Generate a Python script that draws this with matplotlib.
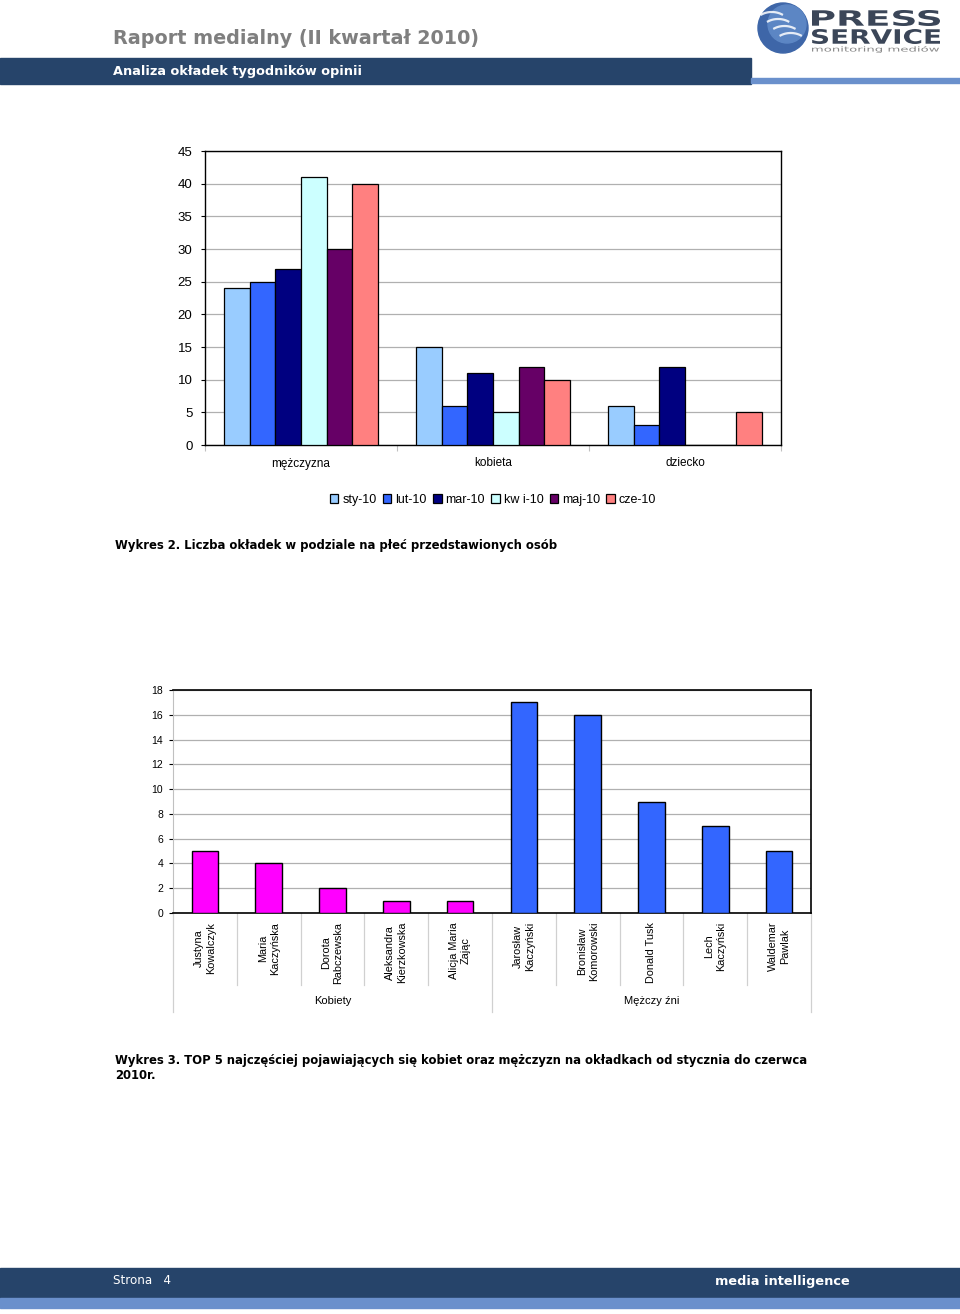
import numpy as np
import matplotlib
matplotlib.use("Agg")
import matplotlib.pyplot as plt
import matplotlib.transforms as mtransforms
from matplotlib.patches import Rectangle, Circle, PathPatch
from matplotlib.textpath import TextPath
from matplotlib.font_manager import FontProperties

W, H = 960, 1314

# chart 1 data
categories1 = ["mężczyzna", "kobieta", "dziecko"]
months = ["sty-10", "lut-10", "mar-10", "kwi-10", "maj-10", "cze-10"]
month_labels = ["sty-10", "lut-10", "mar-10", "kw i-10", "maj-10", "cze-10"]
counts = {
    "sty-10": [24, 15, 6],
    "lut-10": [25, 6, 3],
    "mar-10": [27, 11, 12],
    "kwi-10": [41, 5, 0],
    "maj-10": [30, 12, 0],
    "cze-10": [40, 10, 5],
}
month_colors = ["#99CCFF", "#3366FF", "#000080", "#CCFFFF", "#660066", "#FF8080"]

# chart 2 data
people = ["Justyna\nKowalczyk", "Maria\nKaczyńska", "Dorota\nRabczewska",
          "Aleksandra\nKierzkowska", "Alicja Maria\nZając",
          "Jarosław\nKaczyński", "Bronisław\nKomorowski", "Donald Tusk",
          "Lech\nKaczyński", "Waldemar\nPawlak"]
people_counts = [5, 4, 2, 1, 1, 17, 16, 9, 7, 5]
groups = ["Kobiety", "Mężczy źni"]
group_sizes = [5, 5]
group_colors = ["#FF00FF", "#3366FF"]

DARK = "#26446A"
LIGHT = "#6A90CC"
plt.rcParams["font.family"] = ["Liberation Sans", "DejaVu Sans"]


def box(x0, y0, x1, y1):
    return [x0 / W, 1 - y1 / H, (x1 - x0) / W, (y1 - y0) / H]


def ftext(x, y, s, **kw):
    return fig.text(x / W, 1 - y / H, s, **kw)


fig = plt.figure(figsize=(W / 100, H / 100), dpi=100)

# ---- header / footer ----
fig.patches.append(Rectangle((0, 1 - 84 / H), 751 / W, 26 / H, transform=fig.transFigure,
                             color=DARK, zorder=0))
fig.patches.append(Rectangle((751 / W, 1 - 83 / H), 209 / W, 5 / H, transform=fig.transFigure,
                             color=LIGHT, zorder=0))
fig.patches.append(Rectangle((0, 1 - 1298 / H), 1, 30 / H, transform=fig.transFigure,
                             color=DARK, zorder=0))
fig.patches.append(Rectangle((0, 1 - 1308 / H), 1, 10 / H, transform=fig.transFigure,
                             color=LIGHT, zorder=0))

ftext(113, 38, "Raport medialny (II kwartał 2010)", family="DejaVu Sans", weight="bold",
      fontsize=13.8, color="#7F7F7F", va="center")
ftext(113, 71, "Analiza okładek tygodników opinii", family="DejaVu Sans", weight="bold",
      fontsize=9.3, color="white", va="center")
ftext(113, 1281, "Strona   4", family="DejaVu Sans", fontsize=8.6, color="white", va="center")
ftext(715, 1282, "media intelligence", family="DejaVu Sans", weight="bold", fontsize=9.3,
      color="white", va="center")

ftext(115, 545, "Wykres 2. Liczba okładek w podziale na płeć przedstawionych osób",
      family="DejaVu Sans", weight="bold", fontsize=8.35, va="center")
ftext(115, 1068, "Wykres 3. TOP 5 najczęściej pojawiających się kobiet oraz mężczyzn na okładkach od stycznia do czerwca\n2010r.",
      family="DejaVu Sans", weight="bold", fontsize=8.35, va="center", linespacing=1.2)

# ---- logo ----
lg = fig.add_axes(box(740, 0, 960, 60))
lg.set_xlim(740, 960)
lg.set_ylim(60, 0)
lg.axis("off")
lg.add_patch(Circle((783, 28), 25, color="#3E66A8", zorder=1))
lg.add_patch(Circle((787, 24), 19, color="#5C86C4", zorder=1))
for off in [-8, -1, 6, 13]:
    t = np.linspace(-0.6, 0.6, 30)
    xs = 783 + off * 0.9 + 18 * np.sin(t) - 4
    ys = 28 + off - 14 * np.cos(t) + 6
    lg.plot(xs, ys, color="white", lw=1.6, alpha=0.85, zorder=2)


def fit_text(ax, s, x0, y0, x1, y1, color, weight="bold"):
    tp = TextPath((0, 0), s, size=1, prop=FontProperties(family="DejaVu Sans", weight=weight))
    ext = tp.get_extents()
    sx = (x1 - x0) / ext.width
    sy = (y1 - y0) / ext.height
    tr = mtransforms.Affine2D().translate(-ext.x0, -ext.y0).scale(sx, -sy).translate(x0, y1)
    ax.add_patch(PathPatch(tr.transform_path(tp), color=color, lw=0, zorder=3))


fit_text(lg, "PRESS", 812, 10, 940, 26, "#3B4658")
fit_text(lg, "SERVICE", 812, 29, 940, 44, "#3B4658")
fit_text(lg, "monitoring mediów", 812, 46, 939, 53, "#8A8A8A", weight="normal")

# ---- chart 1 ----
ax1 = fig.add_axes(box(205, 151, 781, 445))
x = np.arange(len(categories1))
bw = 1 / 7.5
for i, m in enumerate(months):
    ax1.bar(x + (i - 2.5) * bw, counts[m], width=bw, color=month_colors[i],
            edgecolor="black", linewidth=0.9, label=month_labels[i], zorder=3)
ax1.set_xlim(-0.5, 2.5)
ax1.set_ylim(0, 45)
ax1.set_yticks(np.arange(0, 46, 5))
ax1.yaxis.grid(True, color="#B0B0B0", lw=0.9, zorder=0)
ax1.set_xticks([-0.5, 0.5, 1.5, 2.5])
ax1.set_xticklabels([])
ax1.tick_params(axis="x", which="major", length=4, color="#C0C0C0", width=0.8)
ax1.set_xticks(x, minor=True)
ax1.set_xticklabels(categories1, minor=True, fontsize=8.5)
ax1.tick_params(axis="x", which="minor", length=0, pad=9)
ax1.tick_params(axis="y", labelsize=9.5, length=3, pad=6)
for sp in ax1.spines.values():
    sp.set_linewidth(1.0)
h, l = ax1.get_legend_handles_labels()
fig.legend(h, l, loc="center", bbox_to_anchor=(493 / W, 1 - 500 / H), ncol=6, frameon=False,
           fontsize=9, handlelength=0.7, handleheight=0.7, handletextpad=0.3,
           columnspacing=0.5)

# ---- chart 2 ----
ax2 = fig.add_axes(box(173, 690, 811, 913))
x2 = np.arange(len(people))
colors2 = [c for c, n in zip(group_colors, group_sizes) for _ in range(n)]
ax2.bar(x2, people_counts, width=0.42, color=colors2, edgecolor="black", linewidth=1.0, zorder=3)
ax2.set_xlim(-0.5, len(people) - 0.5)
ax2.set_ylim(0, 18)
ax2.set_yticks(np.arange(0, 19, 2))
ax2.yaxis.grid(True, color="#B0B0B0", lw=0.9, zorder=0)
ax2.tick_params(axis="y", labelsize=7.5, length=3, pad=4)
ax2.set_xticks([])
for sp in ax2.spines.values():
    sp.set_linewidth(1.2)
ax2.spines["left"].set_linewidth(0.8)
ax2.spines["left"].set_color("#C0C0C0")

trans = mtransforms.blended_transform_factory(ax2.transData, ax2.transAxes)
for i, name in enumerate(people):
    ax2.text(i, -0.04, name, rotation=90, ha="center", va="top", fontsize=7.8,
             transform=trans, linespacing=1.25)
bounds = np.arange(-0.5, len(people), 1)
ends = np.cumsum([0] + group_sizes) - 0.5
for b in bounds:
    low = -0.445 if b in ends else -0.325
    ax2.plot([b, b], [0, low], transform=trans, color="#D0D0D0", lw=0.9, clip_on=False)
for gi, g in enumerate(groups):
    mid = (ends[gi] + ends[gi + 1]) / 2
    ax2.text(mid, -0.395, g, ha="center", va="center", fontsize=8, transform=trans)

fig.savefig("out.png", dpi=100)
